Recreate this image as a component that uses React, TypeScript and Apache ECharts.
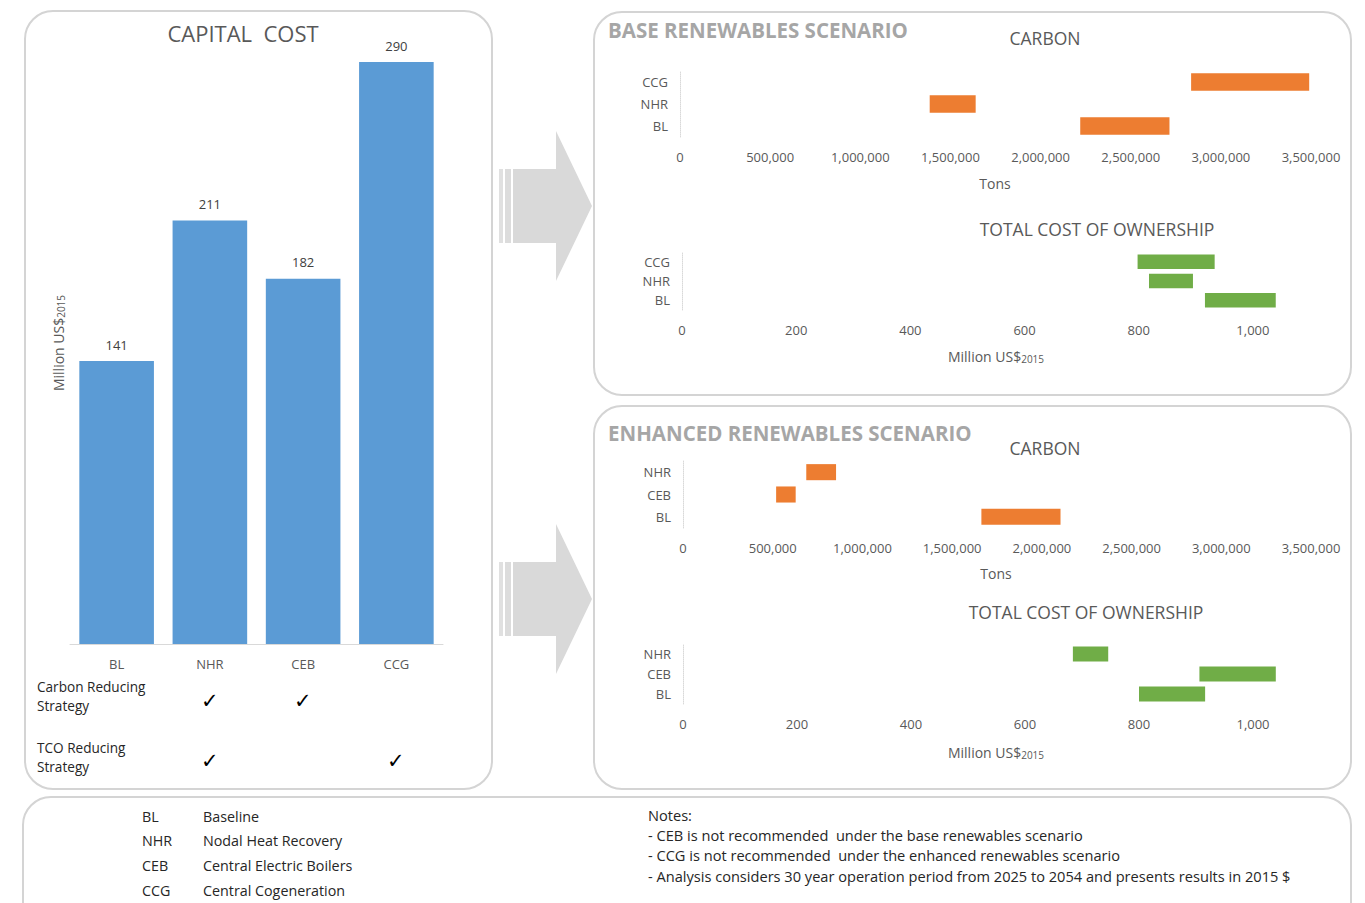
import React, { useEffect, useRef } from "react";
import * as echarts from "echarts";

// ---------- data ----------
const capCategories = ["BL", "NHR", "CEB", "CCG"];
const capitalCost = [141, 211, 182, 290];

const baseCategories = ["BL", "NHR", "CCG"];
const baseCarbonLow = [2220000, 1385000, 2835000];
const baseCarbonHigh = [2715000, 1640000, 3490000];
const baseTcoLow = [916, 818, 798];
const baseTcoHigh = [1040, 895, 933];

const enhCategories = ["BL", "CEB", "NHR"];
const enhCarbonLow = [1663000, 519000, 687000];
const enhCarbonHigh = [2104000, 628000, 853000];
const enhTcoLow = [800, 906, 684];
const enhTcoHigh = [916, 1040, 746];

const carbonStrategy = ["", "✓", "✓", ""];
const tcoStrategy = ["", "✓", "", "✓"];

const abbreviations = ["BL", "NHR", "CEB", "CCG"];
const fullNames = ["Baseline", "Nodal Heat Recovery", "Central Electric Boilers", "Central Cogeneration"];
const notes = [
  "Notes:",
  "- CEB is not recommended  under the base renewables scenario",
  "- CCG is not recommended  under the enhanced renewables scenario",
  "- Analysis considers 30 year operation period from 2025 to 2054 and presents results in 2015 $",
];

const FONT = "Open Sans";
const TXT = "#595959";
const BLUE = "#5b9bd5";
const ORANGE = "#ed7d31";
const GREEN = "#70ad47";

const diff = (hi: number[], lo: number[]) => hi.map((h, i) => h - lo[i]);

export default function App() {
  const ref = useRef<HTMLDivElement>(null);
  useEffect(() => {
    if (!ref.current) return;
    const chart = echarts.init(ref.current, undefined, { renderer: "svg" });

    const catY = (gridIndex: number, data: string[]) => ({
      type: "category" as const,
      gridIndex,
      data,
      axisLine: { show: true, lineStyle: { color: "#d9d9d9", type: "dotted" as const } },
      axisTick: { show: false },
      axisLabel: { color: TXT, fontFamily: FONT, fontSize: 13, margin: 12 },
    });
    const valX = (gridIndex: number, max: number, interval: number, isMoney: boolean) => ({
      type: "value" as const,
      gridIndex,
      min: 0,
      max,
      interval,
      splitLine: { show: false },
      axisLine: { show: false },
      axisTick: { show: false },
      axisLabel: {
        color: TXT,
        fontFamily: FONT,
        fontSize: 13,
        margin: 13,
        showMaxLabel: !isMoney,
        formatter: (v: number) => v.toLocaleString("en-US"),
      },
    });

    const floating = (idx: number, lo: number[], hi: number[], color: string, bw: string) => [
      {
        type: "bar" as const,
        xAxisIndex: idx,
        yAxisIndex: idx,
        stack: "s" + idx,
        data: lo,
        itemStyle: { color: "transparent" },
        barWidth: bw,
        silent: true,
      },
      {
        type: "bar" as const,
        xAxisIndex: idx,
        yAxisIndex: idx,
        stack: "s" + idx,
        data: diff(hi, lo),
        itemStyle: { color },
        barWidth: bw,
      },
    ];

    const panel = (x: number, y: number, w: number, h: number) => ({
      type: "rect" as const,
      shape: { x, y, width: w, height: h, r: 28 },
      style: { fill: "#fff", stroke: "#d4d4d4", lineWidth: 2 },
      z: -10,
      silent: true,
    });

    const arrow = (dy: number) => [
      {
        type: "polygon" as const,
        shape: {
          points: [
            [513, 169 + dy],
            [556, 169 + dy],
            [556, 131 + dy],
            [592, 206 + dy],
            [556, 281 + dy],
            [556, 243 + dy],
            [513, 243 + dy],
          ],
        },
        style: { fill: "#d9d9d9" },
        z: -5,
      },
      { type: "rect" as const, shape: { x: 499, y: 169 + dy, width: 4, height: 74 }, style: { fill: "#e0e0e0" }, z: -5 },
      { type: "rect" as const, shape: { x: 505, y: 169 + dy, width: 6, height: 74 }, style: { fill: "#dcdcdc" }, z: -5 },
    ];

    const txt = (x: number, y: number, text: string, opts: any = {}) => ({
      type: "text" as const,
      x,
      y,
      style: {
        text,
        fill: opts.fill || TXT,
        font: `${opts.weight || "normal"} ${opts.size || 13}px "${FONT}"`,
        align: opts.align || "left",
        verticalAlign: "middle",
        rich: opts.rich,
      },
      rotation: opts.rotation || 0,
    });

    const moneyRich = {
      a: { fontSize: 14, fontFamily: FONT, color: TXT },
      b: { fontSize: 10, fontFamily: FONT, color: TXT, verticalAlign: "bottom", padding: [5, 0, 0, 0] },
    };

    const graphics: any[] = [
      panel(25, 11, 467, 778),
      panel(594, 12, 757, 383),
      panel(594, 406, 757, 383),
      panel(23, 797, 1328, 140),
      ...arrow(0),
      ...arrow(393),
      txt(243, 33, "CAPITAL  COST", { size: 22, align: "center" }),
      txt(58, 343, "{a|Million US$}{b|2015}", { align: "center", rotation: Math.PI / 2, rich: moneyRich }),
      txt(37, 686, "Carbon Reducing", { size: 13.6, fill: "#262626" }),
      txt(37, 705, "Strategy", { size: 13.6, fill: "#262626" }),
      txt(37, 747, "TCO Reducing", { size: 13.6, fill: "#262626" }),
      txt(37, 766, "Strategy", { size: 13.6, fill: "#262626" }),
      txt(608, 30, "BASE RENEWABLES SCENARIO", { size: 20.5, weight: "bold", fill: "#a6a6a6" }),
      txt(1045, 38, "CARBON", { size: 17.5, align: "center" }),
      txt(995, 183, "Tons", { size: 14, align: "center" }),
      txt(1097, 229, "TOTAL COST OF OWNERSHIP", { size: 17.5, align: "center" }),
      txt(996, 356, "{a|Million US$}{b|2015}", { align: "center", rich: moneyRich }),
      txt(608, 433, "ENHANCED RENEWABLES SCENARIO", { size: 20.5, weight: "bold", fill: "#a6a6a6" }),
      txt(1045, 448, "CARBON", { size: 17.5, align: "center" }),
      txt(996, 573, "Tons", { size: 14, align: "center" }),
      txt(1086, 612, "TOTAL COST OF OWNERSHIP", { size: 17.5, align: "center" }),
      txt(996, 752, "{a|Million US$}{b|2015}", { align: "center", rich: moneyRich }),
    ];

    const capCenters = capCategories.map((_, i) => 70 + (373 / 4) * (i + 0.5));
    carbonStrategy.forEach((c, i) => {
      if (c) graphics.push(txt(capCenters[i], 700, c, { size: 21, align: "center", fill: "#000" }));
    });
    tcoStrategy.forEach((c, i) => {
      if (c) graphics.push(txt(capCenters[i], 760, c, { size: 21, align: "center", fill: "#000" }));
    });
    abbreviations.forEach((a, i) => {
      graphics.push(txt(142, 816 + i * 24.8, a, { size: 14.3, fill: "#262626" }));
      graphics.push(txt(203, 816 + i * 24.8, fullNames[i], { size: 14.3, fill: "#262626" }));
    });
    notes.forEach((n, i) => {
      graphics.push(txt(648, 815 + (i === 0 ? 0 : 19.5 + (i - 1) * 20.5), n, { size: 14.6, fill: "#262626" }));
    });

    chart.setOption({
      animation: false,
      textStyle: { fontFamily: FONT },
      grid: [
        { left: 70, top: 42, width: 373, height: 602 },
        { left: 680, top: 71, width: 631, height: 66 },
        { left: 682, top: 252, width: 628, height: 58 },
        { left: 683, top: 461, width: 628, height: 67 },
        { left: 683, top: 644, width: 627, height: 60 },
      ],
      xAxis: [
        {
          type: "category",
          gridIndex: 0,
          data: capCategories,
          axisLine: { show: true, lineStyle: { color: "#d9d9d9" } },
          axisTick: { show: false },
          axisLabel: { color: TXT, fontFamily: FONT, fontSize: 13, margin: 13 },
        },
        valX(1, 3500000, 500000, false),
        valX(2, 1100, 200, true),
        valX(3, 3500000, 500000, false),
        valX(4, 1100, 200, true),
      ],
      yAxis: [
        {
          type: "value",
          gridIndex: 0,
          min: 0,
          max: 300,
          show: false,
          splitLine: { show: false },
        },
        catY(1, baseCategories),
        catY(2, baseCategories),
        catY(3, enhCategories),
        catY(4, enhCategories),
      ],
      series: [
        {
          type: "bar",
          xAxisIndex: 0,
          yAxisIndex: 0,
          data: capitalCost,
          barWidth: "80%",
          itemStyle: { color: BLUE },
          label: { show: true, position: "top", distance: 10, color: "#404040", fontFamily: FONT, fontSize: 13 },
        },
        ...floating(1, baseCarbonLow, baseCarbonHigh, ORANGE, "80%"),
        ...floating(2, baseTcoLow, baseTcoHigh, GREEN, "75%"),
        ...floating(3, enhCarbonLow, enhCarbonHigh, ORANGE, "72%"),
        ...floating(4, enhTcoLow, enhTcoHigh, GREEN, "75%"),
      ],
      graphic: graphics,
    });
    return () => chart.dispose();
  }, []);
  return (
    <div
      ref={ref}
      style={{ position: "fixed", left: 0, top: 0, width: 1365, height: 903, background: "#fff" }}
    />
  );
}
